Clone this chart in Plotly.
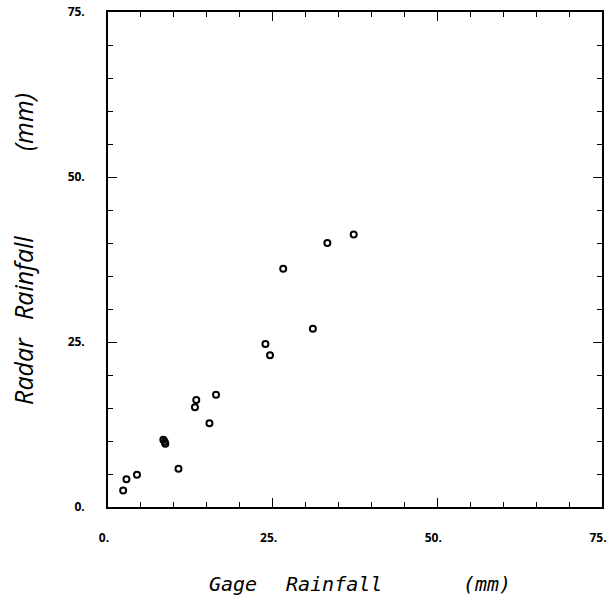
import plotly.graph_objects as go

# Data (mm)
gage = [2.3, 2.8, 4.4, 8.4, 8.6, 8.7, 10.7, 13.2, 13.4, 15.4, 16.4,
        23.9, 24.6, 26.6, 31.1, 33.3, 37.3]
radar = [2.5, 4.2, 4.9, 10.2, 9.9, 9.6, 5.8, 15.1, 16.2, 12.7, 17.0,
         24.7, 23.0, 36.1, 27.0, 40.0, 41.3]

tick_vals = [0, 25, 50, 75]
tick_text = ["0.", "25.", "50.", "75."]

x_words = ["Gage", "Rainfall", "(mm)"]
y_words = ["Radar", "Rainfall", "(mm)"]

fig = go.Figure()
fig.add_trace(go.Scatter(
    x=gage, y=radar, mode="markers",
    marker=dict(symbol="circle-open", size=6, color="black",
                line=dict(width=2, color="black")),
    showlegend=False
))

axis_common = dict(
    range=[0, 75], automargin=False,
    tickvals=tick_vals, ticktext=tick_text,
    ticks="inside", ticklen=9, tickwidth=1.3, tickcolor="black",
    minor=dict(dtick=5, ticks="inside", ticklen=5, tickwidth=1, tickcolor="black"),
    showline=True, linecolor="black", linewidth=1.6,
    mirror="allticks", showgrid=False, zeroline=False,
    tickfont=dict(family="Open Sans", size=12, color="black", weight="bold"),
)

fig.update_xaxes(**axis_common, ticklabelstandoff=19, ticklabelshift=-4)
fig.update_yaxes(**axis_common, ticklabelstandoff=19)

# axis titles, word by word
x_font = dict(family="DejaVu Sans Mono", size=20, color="black", style="italic")
y_font = dict(family="Open Sans", size=25, color="black", style="italic")
for word, xc in zip(x_words, [0.253, 0.458, 0.768]):
    fig.add_annotation(text=word, xref="paper", yref="paper", x=xc, y=-0.1556,
                       xanchor="center", yanchor="middle", showarrow=False, font=x_font)
for word, yc in zip(y_words, [0.275, 0.4626, 0.7778]):
    fig.add_annotation(text=word, xref="paper", yref="paper", x=-0.172, y=yc,
                       xanchor="center", yanchor="middle", textangle=-90,
                       showarrow=False, font=y_font)

fig.update_layout(
    width=610, height=603,
    margin=dict(l=108, r=8, t=12, b=96),
    paper_bgcolor="white", plot_bgcolor="white",
)

fig.write_html("out.html", config={"displayModeBar": False},
               post_script="document.body.style.margin='0';")
